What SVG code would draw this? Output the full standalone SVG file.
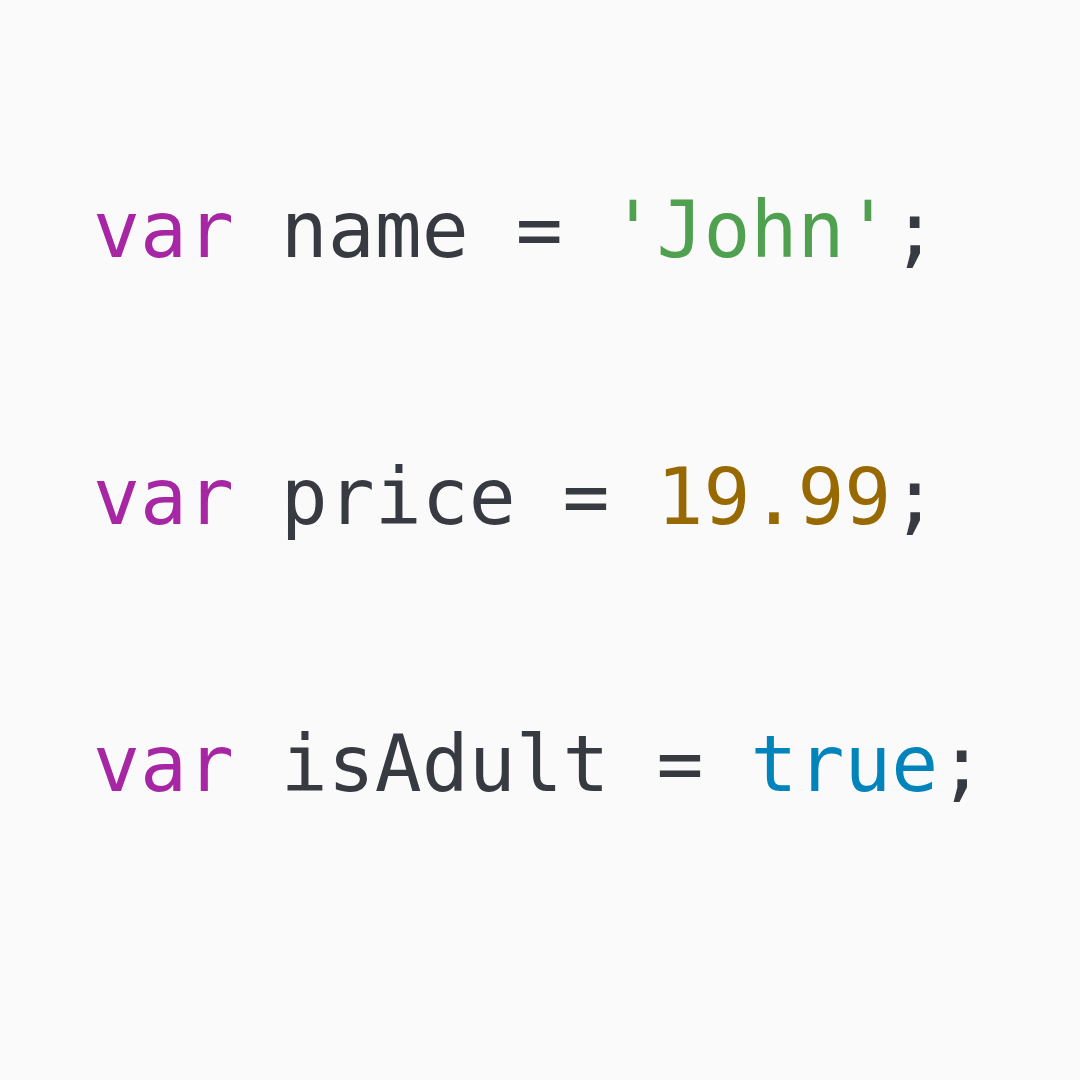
<svg xmlns="http://www.w3.org/2000/svg" width="1080" height="1080" viewBox="0 0 1080 1080">
<style>
.code{font-family:"DejaVu Sans Mono","Liberation Mono",monospace;font-size:78px;fill:#383A42;white-space:pre}
.kw{fill:#A626A4}
.str{fill:#50A14F}
.num{fill:#986801}
.bool{fill:#0184BC}
</style>
<rect width="1080" height="1080" fill="#FAFAFA"/>
<g id="line1"><text class="code" x="93" y="257" xml:space="preserve"><tspan class="kw">var</tspan> name = <tspan class="str">'John'</tspan>;</text></g>
<g id="line2"><text class="code" x="93" y="524" xml:space="preserve"><tspan class="kw">var</tspan> price = <tspan class="num">19.99</tspan>;</text></g>
<g id="line3"><text class="code" x="93" y="791" xml:space="preserve"><tspan class="kw">var</tspan> isAdult = <tspan class="bool">true</tspan>;</text></g>
</svg>
